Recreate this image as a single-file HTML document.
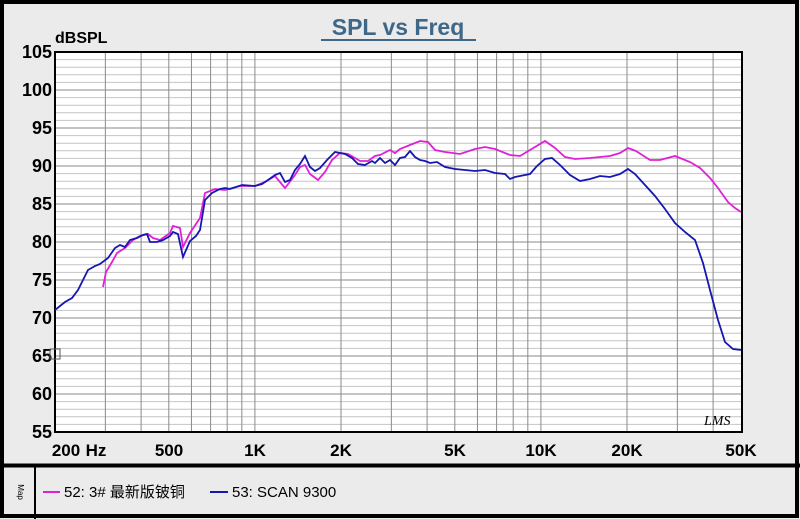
<!DOCTYPE html>
<html><head><meta charset="utf-8"><style>
html,body{margin:0;padding:0;background:#ebebeb;}
svg{display:block;font-family:"Liberation Sans","Noto Sans CJK SC",sans-serif;}
</style></head><body>
<svg id="s" width="800" height="519" viewBox="0 0 800 519" xmlns="http://www.w3.org/2000/svg">
<rect x="0" y="0" width="800" height="519" fill="#ebebeb"/>
<rect x="2" y="2" width="795" height="514" fill="none" stroke="#000" stroke-width="4"/>
<line x1="0" y1="465.5" x2="800" y2="465.5" stroke="#000" stroke-width="4"/>
<line x1="35" y1="467" x2="35" y2="519" stroke="#000" stroke-width="2"/>
<rect x="55" y="52" width="687" height="380" fill="#fff"/>
<g id="grid"></g>
<rect x="55" y="52" width="687" height="380" fill="none" stroke="#000" stroke-width="2"/>
<text x="398" y="35" text-anchor="middle" font-size="23" font-weight="bold" fill="#3f6787">SPL vs Freq</text>
<line x1="321" y1="40" x2="476" y2="40" stroke="#3f6787" stroke-width="2"/>
<text x="55" y="43" font-size="16" font-weight="bold">dBSPL</text>
<g font-size="18" font-weight="bold" text-anchor="end" id="ylab"></g>
<g font-size="17" font-weight="bold" text-anchor="middle">
<text x="66" y="456">200</text><text x="96" y="456">Hz</text>
<text x="169" y="456">500</text><text x="255" y="456">1K</text>
<text x="341" y="456">2K</text><text x="455" y="456">5K</text>
<text x="541" y="456">10K</text><text x="627" y="456">20K</text>
<text x="741" y="456">50K</text>
</g>
<text x="704" y="425" font-size="14" font-style="italic" font-family="Liberation Serif,serif">LMS</text>
<polyline fill="none" stroke="#e020d8" stroke-width="1.8" points="103,287 106,272 112,262 117,253 125,248 133,240 140,236 148,234 153,238 160,240 170,233 173,226 180,228 183,247 190,233 200,218 205,193 215,189 225,190 240,186 255,186 265,182 275,176 285,188 295,175 300,167 305,165 310,174 318,180 325,172 332,160 340,153 348,154 355,158 360,161 368,161 375,156 380,155 390,150 395,153 400,149 410,145 420,141 428,142 435,150 445,152 460,154 475,149 485,147 495,149 510,155 520,156 530,150 545,141 555,148 565,157 575,159 590,158 600,157 610,156 620,153 628,148 636,151 650,160 660,160 675,156 690,162 700,168 710,178 718,188 728,202 735,208 741,212"/>
<polyline fill="none" stroke="#1616b0" stroke-width="1.8" points="55,310 65,302 72,298 78,290 88,270 95,266 100,264 108,258 115,248 120,245 125,247 130,240 137,238 143,235 147,234 150,242 157,242 163,240 170,236 173,232 178,234 183,257 190,241 196,236 200,230 205,200 212,193 220,189 225,188 230,189 242,185 255,186 262,184 268,180 275,175 280,173 285,182 290,180 295,170 300,164 305,156 310,167 315,171 320,168 327,160 335,152 345,154 352,158 358,164 365,165 372,161 375,163 380,158 385,163 390,160 395,165 400,158 405,157 410,151 415,157 420,160 425,161 430,163 437,162 445,167 455,169 465,170 475,171 485,170 495,173 505,174 510,179 515,177 520,176 530,174 537,166 545,159 552,158 560,165 570,175 580,181 590,179 600,176 610,177 620,174 628,169 635,174 645,185 655,196 665,209 675,223 685,232 695,240 703,263 710,290 718,320 725,342 733,349 741,350"/>
<rect x="50" y="349" width="10" height="10" fill="none" stroke="#555" stroke-width="1"/>
<text x="18" y="492" font-size="8" transform="rotate(90 18 492)" text-anchor="middle">Map</text>
<line x1="43" y1="492" x2="60" y2="492" stroke="#e020d8" stroke-width="2"/>
<text x="64" y="497" font-size="15">52: 3#  最新版铍铜</text>
<line x1="210" y1="492" x2="228" y2="492" stroke="#1616b0" stroke-width="2"/>
<text x="232" y="497" font-size="15">53: SCAN  9300</text>
</svg>
<script>
var ns="http://www.w3.org/2000/svg",g=document.getElementById("grid"),yl=document.getElementById("ylab");
function L(x1,y1,x2,y2,c){var l=document.createElementNS(ns,"line");l.setAttribute("x1",x1);l.setAttribute("y1",y1);l.setAttribute("x2",x2);l.setAttribute("y2",y2);l.setAttribute("stroke",c);l.setAttribute("stroke-width","1");g.appendChild(l);}
for(var d=55;d<=105;d++){var y=432-(d-55)*380/50;L(55,y,742,y,d%5==0?"#8a8a8a":"#c4c4c4");
if(d%5==0){var t=document.createElementNS(ns,"text");t.setAttribute("x",52);t.setAttribute("y",y+6);t.textContent=d;yl.appendChild(t);}}
var fs=[300,400,500,600,700,800,900,1000,2000,3000,4000,5000,6000,7000,8000,9000,10000,20000,30000,40000];
fs.forEach(function(f){var x=55+286*Math.log10(f/200);L(x,52,x,432,"#8a8a8a");});
</script>
</body></html>
